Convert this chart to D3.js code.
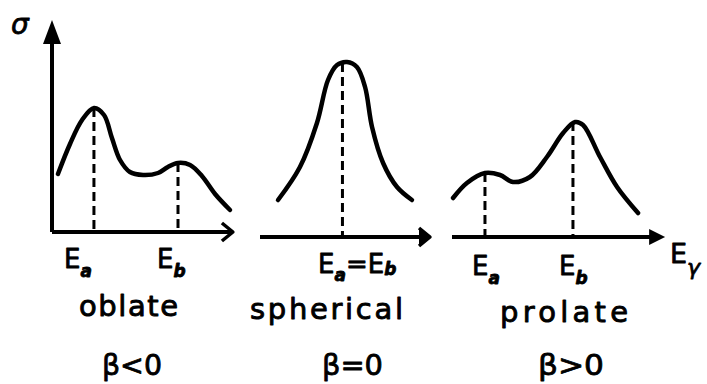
<!DOCTYPE html>
<html>
<head>
<meta charset="utf-8">
<script src="https://cdn.jsdelivr.net/npm/d3@7"></script>
<style>
  html, body { margin: 0; padding: 0; background: #fff; }
  svg { display: block; }
</style>
</head>
<body>
<svg id="chart" width="707" height="384"></svg>
<script>
// ============================================
// data — cross-section curves (arbitrary units)
// ============================================
const oblateE     = [0.33, 1.0, 1.67, 2.33, 2.89, 3.33, 3.78, 4.33, 5.06, 5.89, 6.44, 7.0, 7.67, 8.33, 9.06, 9.89];
const oblateSigma = [2.9, 4.4, 5.6, 6.2, 5.85, 4.7, 3.6, 3.0, 2.85, 2.95, 3.25, 3.45, 3.35, 2.8, 1.9, 1.1];

const sphericalE     = [1.06, 2.35, 3.35, 4.0, 4.53, 5.12, 5.7, 6.18, 6.59, 7.24, 8.06, 8.94];
const sphericalSigma = [1.85, 3.5, 5.7, 7.85, 8.6, 8.75, 8.5, 7.5, 5.5, 3.7, 2.5, 1.85];

const prolateE     = [0.05, 0.71, 1.57, 2.29, 2.9, 3.71, 4.52, 5.29, 5.86, 6.24, 7.05, 7.86, 8.86];
const prolateSigma = [1.95, 2.7, 3.2, 3.1, 2.75, 3.0, 4.0, 5.2, 5.75, 5.6, 4.0, 2.5, 1.2];

// resonance positions (dashed markers) and their heights
const oblatePeaks    = [[2.33, 6.2], [7.0, 3.45]];
const sphericalPeaks = [[4.85, 8.7]];
const prolatePeaks   = [[1.57, 3.2], [5.76, 5.75]];

// labels
const peakSubs    = ['a', 'b'];
const shapeLabels = ['oblate', 'spherical', 'prolate'];
const betaLabels  = ['β<0', 'β=0', 'β>0'];

// ============================================
// layout
// ============================================
const INK = '#000';
const FONT = 'DejaVu Sans, sans-serif';
const svg = d3.select('#chart');

const panels = [
    { E: oblateE, S: oblateSigma, peaks: oblatePeaks, xr: [52, 232], base: 232, axisEnd: 10.05, yAxis: true, arrow: 'open' },
    { E: sphericalE, S: sphericalSigma, peaks: sphericalPeaks, xr: [260, 430], base: 237, axisEnd: 10.0, arrow: 'chevron' },
    { E: prolateE, S: prolateSigma, peaks: prolatePeaks, xr: [452, 662], base: 237, axisEnd: 10.15, arrow: 'filled' },
];

panels.forEach((p) => {
    const x = d3.scaleLinear().domain([0, 10]).range(p.xr);
    const y = d3.scaleLinear().domain([0, 10]).range([p.base, p.base - 200]);
    const g = svg.append('g');

    // x axis
    const x0 = x(0), x1 = x(p.axisEnd), yb = y(0);
    g.append('line')
        .attr('x1', x0).attr('x2', p.arrow === 'filled' ? x1 - 12 : x1 - 1)
        .attr('y1', yb).attr('y2', yb)
        .attr('stroke', INK).attr('stroke-width', 4);

    if (p.arrow === 'filled') {
        g.append('path')
            .attr('d', `M${x1},${yb} L${x1 - 16},${yb - 8} L${x1 - 16},${yb + 8} Z`)
            .attr('fill', INK);
    } else {
        g.append('path')
            .attr('d', `M${x1 - 11},${yb - 9} L${x1},${yb} L${x1 - 11},${yb + 9}`)
            .attr('fill', p.arrow === 'chevron' ? INK : 'none')
            .attr('stroke', INK).attr('stroke-width', 3.5)
            .attr('stroke-linejoin', 'round');
    }

    // y axis (first panel only)
    if (p.yAxis) {
        g.append('line')
            .attr('x1', x0).attr('x2', x0)
            .attr('y1', yb).attr('y2', yb - 192)
            .attr('stroke', INK).attr('stroke-width', 4);
        g.append('path')
            .attr('d', `M${x0},${yb - 212} L${x0 - 9},${yb - 188} L${x0 + 9},${yb - 188} Z`)
            .attr('fill', INK);
    }

    // dashed resonance markers
    g.selectAll('.peak')
        .data(p.peaks)
        .enter()
        .append('line')
        .attr('class', 'peak')
        .attr('x1', (d) => x(d[0])).attr('x2', (d) => x(d[0]))
        .attr('y1', (d) => y(d[1])).attr('y2', yb)
        .attr('stroke', INK).attr('stroke-width', 3)
        .attr('stroke-dasharray', '9,5');

    // cross-section curve
    const line = d3.line()
        .x((d) => x(d[0]))
        .y((d) => y(d[1]))
        .curve(d3.curveCatmullRom.alpha(0.5));

    g.append('path')
        .datum(p.E.map((e, k) => [e, p.S[k]]))
        .attr('d', line)
        .attr('fill', 'none')
        .attr('stroke', INK).attr('stroke-width', 4.5)
        .attr('stroke-linecap', 'round').attr('stroke-linejoin', 'round');
});

// ============================================
// texts
// ============================================
function ink(sel, w) {
    return sel.attr('fill', INK).attr('stroke', INK).attr('stroke-width', w)
        .attr('stroke-linejoin', 'round').attr('font-family', FONT);
}

function subTspan(t, s, dy) {
    t.append('tspan').attr('font-size', 17).attr('font-style', 'italic').attr('font-weight', 'bold')
        .attr('dy', dy).text(s);
}

function eLabel(xPos, yPos, sub) {
    const t = ink(svg.append('text'), 0.8)
        .attr('x', xPos).attr('y', yPos).attr('font-size', 26);
    t.append('tspan').text('E');
    subTspan(t, sub, 9);
    return t;
}

// energy labels under the axes
eLabel(64, 268, peakSubs[0]);
eLabel(157, 268, peakSubs[1]);

const mid = ink(svg.append('text'), 0.8)
    .attr('x', 318).attr('y', 273).attr('font-size', 26);
mid.append('tspan').text('E');
subTspan(mid, peakSubs[0], 8);
mid.append('tspan').attr('dy', -8).text('=E');
subTspan(mid, peakSubs[1], 2);

eLabel(472, 275, peakSubs[0]);
eLabel(559, 275, peakSubs[1]);

// E_gamma on the right
const eg = ink(svg.append('text'), 0.8)
    .attr('x', 670).attr('y', 263).attr('font-size', 27);
eg.append('tspan').text('E');
eg.append('tspan').attr('font-size', 22).attr('font-style', 'italic').attr('dy', 12).text('γ');

// sigma on the y axis
ink(svg.append('text'), 0.8)
    .attr('x', 11).attr('y', 34)
    .attr('font-size', 28).attr('font-style', 'italic')
    .text('σ');

// shape names
const shapeX = [[79, 178], [250, 403], [500, 628]];
const shapeY = [316, 319, 322];
ink(svg.selectAll('.shape').data(shapeLabels).enter().append('text'), 0.9)
    .attr('class', 'shape')
    .attr('x', (d, i) => shapeX[i][0])
    .attr('y', (d, i) => shapeY[i])
    .attr('textLength', (d, i) => shapeX[i][1] - shapeX[i][0])
    .attr('lengthAdjust', 'spacing')
    .attr('font-size', 29)
    .text((d) => d);

// deformation parameter
const betaX = [[102, 162], [322, 383], [538, 604]];
ink(svg.selectAll('.beta').data(betaLabels).enter().append('text'), 0.8)
    .attr('class', 'beta')
    .attr('x', (d, i) => betaX[i][0])
    .attr('y', 375)
    .attr('textLength', (d, i) => betaX[i][1] - betaX[i][0])
    .attr('lengthAdjust', 'spacingAndGlyphs')
    .attr('font-size', 28)
    .text((d) => d);
</script>
</body>
</html>
